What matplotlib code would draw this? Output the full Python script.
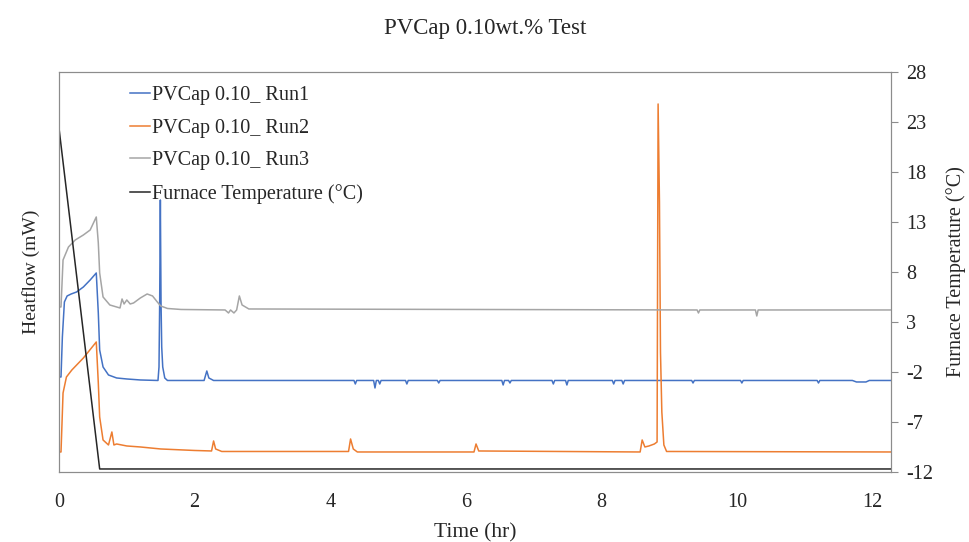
import matplotlib
matplotlib.use('Agg')
from matplotlib import pyplot as plt

# heatflow traces (left axis has no scale, values read on the right-axis grid)
run1_t = [0.0, 0.03, 0.05, 0.08, 0.12, 0.18, 0.26, 0.36, 0.46, 0.55, 0.58, 0.6, 0.65, 0.73, 0.85,
          1.0, 1.2, 1.46, 1.475, 1.485, 1.495, 1.505, 1.515, 1.53, 1.56, 1.6, 2.14, 2.18, 2.21, 2.28,
          4.35, 4.37, 4.39, 4.64, 4.66, 4.68, 4.71, 4.73, 4.75, 5.11, 5.13, 5.15, 5.58, 5.6, 5.62,
          6.53, 6.55, 6.57, 6.63, 6.65, 6.67, 7.27, 7.29, 7.31, 7.47, 7.49, 7.51, 8.16, 8.18, 8.2,
          8.3, 8.32, 8.34, 9.33, 9.35, 9.37, 10.05, 10.07, 10.09, 11.18, 11.2, 11.22, 11.7, 11.76,
          11.9, 11.95, 12.27]
run1_v = [-2.5, -2.5, 1.5, 5.0, 5.6, 5.8, 6.0, 6.5, 7.2, 7.9, 3.9, 0.2, -1.5, -2.3, -2.6,
          -2.7, -2.8, -2.85, -1.5, 5.0, 15.2, 5.0, 0.5, -1.5, -2.6, -2.85, -2.85, -1.9, -2.6, -2.85,
          -2.85, -3.2, -2.85, -2.85, -3.6, -2.85, -2.85, -3.2, -2.85, -2.85, -3.2, -2.85, -2.85, -3.1, -2.85,
          -2.85, -3.3, -2.85, -2.85, -3.1, -2.85, -2.85, -3.2, -2.85, -2.85, -3.3, -2.85, -2.85, -3.2, -2.85,
          -2.85, -3.2, -2.85, -2.85, -3.1, -2.85, -2.85, -3.1, -2.85, -2.85, -3.1, -2.85, -2.85, -3.0,
          -3.0, -2.85, -2.85]

run2_t = [0.0, 0.03, 0.06, 0.11, 0.19, 0.36, 0.55, 0.58, 0.6, 0.65, 0.73, 0.78, 0.81, 0.85,
          1.0, 1.2, 1.5, 2.0, 2.25, 2.28, 2.31, 2.4, 4.27, 4.3, 4.34, 4.4, 6.12, 6.15, 6.19,
          8.57, 8.6, 8.64, 8.7, 8.78, 8.82, 8.835, 8.855, 8.87, 8.89, 8.92, 8.96, 12.27]
run2_v = [-10.0, -10.0, -4.1, -2.5, -1.8, -0.6, 1.0, -3.1, -6.5, -8.8, -9.3, -8.0, -9.3, -9.2,
          -9.4, -9.5, -9.7, -9.85, -9.9, -8.9, -9.7, -9.95, -9.95, -8.7, -9.7, -10.0, -10.0, -9.2, -9.9,
          -10.0, -8.8, -9.5, -9.4, -9.2, -9.0, 24.8, 15.0, 0.0, -6.0, -9.3, -9.95, -10.0]

run3_t = [0.0, 0.03, 0.06, 0.14, 0.24, 0.36, 0.46, 0.55, 0.58, 0.6, 0.65, 0.75, 0.9,
          0.93, 0.96, 1.0, 1.05, 1.1, 1.2, 1.3, 1.38, 1.45, 1.5, 1.6, 1.8, 2.45, 2.5, 2.53,
          2.58, 2.62, 2.66, 2.7, 2.8, 9.41, 9.43, 9.45, 10.27, 10.29, 10.31, 12.27]
run3_v = [4.5, 4.5, 9.2, 10.5, 11.2, 11.7, 12.2, 13.5, 10.9, 7.9, 5.5, 4.7, 4.4,
          5.3, 4.8, 5.2, 4.8, 4.9, 5.4, 5.8, 5.6, 5.0, 4.6, 4.35, 4.25, 4.2, 3.9, 4.2,
          3.9, 4.2, 5.6, 4.7, 4.3, 4.2, 3.9, 4.2, 4.2, 3.6, 4.2, 4.2]

furnace_t = [0.0, 0.6, 12.27]
furnace_v = [22.4, -11.7, -11.7]

temp_ticks = [-12, -7, -2, 3, 8, 13, 18, 23, 28]
time_ticks = [0, 2, 4, 6, 8, 10, 12]

plt.rcParams['font.family'] = ['Liberation Serif', 'DejaVu Serif']
plt.rcParams['axes.unicode_minus'] = False

fig = plt.figure(figsize=(9.7, 5.42), dpi=100)
ax = fig.add_axes([0.0608, 0.1292, 0.8578, 0.738])
ax2 = ax.twinx()

l1, = ax.plot(run1_t, run1_v, color='#4472C4', lw=1.1, label='PVCap 0.10_ Run1')
l2, = ax.plot(run2_t, run2_v, color='#ED7D31', lw=1.1, label='PVCap 0.10_ Run2')
l3, = ax.plot(run3_t, run3_v, color='#A5A5A5', lw=1.1, label='PVCap 0.10_ Run3')
l4, = ax2.plot(furnace_t, furnace_v, color='#262626', lw=1.1, label='Furnace Temperature (°C)')

ax.set_xlim(0, 12.27)
ax.set_ylim(-12, 28)
ax2.set_ylim(-12, 28)

ax.set_yticks([])
ax.set_xticks(time_ticks)
ax.tick_params(axis='x', length=0, pad=15, labelsize=14.5, colors='#262626')
ax2.set_yticks(temp_ticks)
ax2.tick_params(axis='y', length=5, width=0.8, color='#8c8c8c', pad=6, labelsize=14.5, labelcolor='#262626')

for a in (ax, ax2):
    for s in a.spines.values():
        s.set_color('#8c8c8c')
        s.set_linewidth(0.8)

ax.set_xlabel('Time (hr)', fontsize=15.5, color='#262626', labelpad=8)
ax.set_ylabel('Heatflow (mW)', fontsize=14, color='#262626', labelpad=14)
ax2.set_ylabel('Furnace Temperature (°C)', fontsize=14.5, color='#262626', labelpad=9)
fig.suptitle('PVCap 0.10wt.% Test', fontsize=16.5, y=0.948, va='center', color='#262626')

leg = ax.legend(handles=[l1, l2, l3, l4], loc='upper left', bbox_to_anchor=(0.0757, 0.985),
                frameon=False, fontsize=14.5, handlelength=1.0, handletextpad=0.1,
                labelspacing=0.67, borderaxespad=0)
for t in leg.get_texts():
    t.set_color('#262626')

fig.savefig('out.png', dpi=100)
